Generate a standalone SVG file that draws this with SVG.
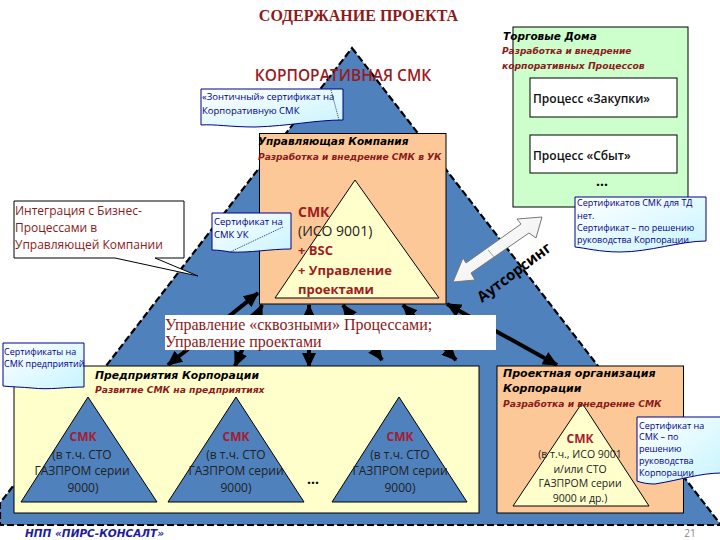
<svg xmlns="http://www.w3.org/2000/svg" width="720" height="540" viewBox="0 0 720 540">
<style>
text{font-family:"Open Sans","DejaVu Sans",sans-serif}
.box{stroke:#000;stroke-width:1}
.ser{font-family:"Liberation Serif",serif}
.it{font-style:italic;font-weight:700;font-family:"DejaVu Sans",sans-serif}
.red{fill:#8b1a1a}
.note{fill:url(#n);stroke:#00008b;stroke-width:1}
.nt{fill:#00008b;font-size:9px}
.sm{font-size:12px;fill:#222}
.smk{font-size:12px;font-weight:700;fill:#a51c30}
.po{font-size:10.5px;fill:#222;text-anchor:middle}
.ctr{text-anchor:middle}
.uk{font-size:13px;font-weight:700;fill:#a01c20}
.ar{stroke:#000;stroke-width:4;fill:none;marker-start:url(#h);marker-end:url(#h)}
</style>
<defs>
<marker id="h" markerUnits="userSpaceOnUse" markerWidth="16" markerHeight="14" refX="14" refY="7" orient="auto-start-reverse"><path d="M0 0L15 7L0 14z" fill="#000"/></marker>
<linearGradient id="n" x1="0" y1="0" x2="1" y2="1"><stop offset="0" stop-color="#fff"/><stop offset="1" stop-color="#c8f4ff"/></linearGradient>
<linearGradient id="g" x1="0" y1="0" x2="1" y2="1"><stop offset="0" stop-color="#fff"/><stop offset="0.6" stop-color="#f4f4f4"/><stop offset="1" stop-color="#aaa"/></linearGradient>
</defs>
<g id="pyramid"><path d="M352 48L721 525H0V503Z" fill="#4f81bd" stroke="#000" stroke-width="2.2" stroke-dasharray="7 3"/></g>
<text class="ser red" x="358.500" y="21" font-size="16" font-weight="700" text-anchor="middle">СОДЕРЖАНИЕ ПРОЕКТА</text>
<g id="torg"><rect class="box" x="513" y="27" width="175" height="180" fill="#ccffcc"/>
<rect class="box" x="530" y="78" width="147" height="39" fill="#fff"/><text x="533" y="103" font-size="12" font-weight="600" fill="#111">Процесс «Закупки»</text>
<rect class="box" x="530" y="135" width="147" height="38" fill="#fff"/><text x="533" y="160" font-size="12" font-weight="600" fill="#111">Процесс «Сбыт»</text>
<text x="602" y="186" font-size="14" font-weight="700" text-anchor="middle">...</text>
<text class="it" x="503" y="40" font-size="10.5">Торговые Дома</text>
<text class="it red" x="502" y="54" font-size="9">Разработка и внедрение</text>
<text class="it red" x="502" y="69" font-size="9.2">корпоративных Процессов</text></g>
<text x="343" y="81" font-size="15.500" font-weight="600" class="ctr" fill="#9a1b1f">КОРПОРАТИВНАЯ СМК</text>
<g id="note-umbrella"><path class="note" d="M201 89H343V120C315 120 290 126 255 127C230 127 215 124 201 125Z"/><text class="nt" x="202" y="100" style="font-size:9.500px">«Зонтичный» сертификат на</text><text class="nt" x="202" y="114" style="font-size:9.500px">Корпоративную СМК</text><path d="M331 90L339 120" stroke="#336" stroke-dasharray="1 1"/></g>
<g id="connectors">
<path class="ar" d="M258 293L168 365"/><path class="ar" d="M262 305L235 366"/><path class="ar" d="M309 305V367"/><path class="ar" d="M343 305L382 360"/><path class="ar" d="M403 305L456 360"/><path class="ar" d="M447 304L557 365"/>
<path d="M542 217L517 219L521 224L466 263L463 258L453 282L475 280L471 273L529 233L536 238Z" fill="url(#g)" stroke="#777"/><path d="M488 250L495 258" stroke="#5a8a9a" stroke-width="0.700"/>
</g>
<g id="uk"><rect class="box" x="259.500" y="133.500" width="186.500" height="170.500" fill="#fcc898"/>
<path class="box" d="M355 180L439 298H275Z" fill="#ffffcc"/>
<text class="it" x="258" y="145" font-size="10.5">Управляющая Компания</text>
<text class="it red" x="258" y="160" font-size="9.100">Разработка и внедрение СМК в УК</text>
<text x="298" y="217" class="uk" style="font-size:14px">СМК</text>
<text x="298" y="236" font-size="14" fill="#222">(ИСО 9001)</text>
<text x="298" y="255" class="uk">+ BSC</text>
<text x="298" y="275" class="uk">+ Управление</text>
<text x="298" y="294" class="uk">проектами</text></g>
<g id="note-integration"><path d="M14 201H184V258H155L198 276L115 258H14Z" fill="#fff" stroke="#000"/><text x="15" y="215" font-size="12" class="red">Интеграция с Бизнес-</text><text x="15" y="232" font-size="12" class="red">Процессами в</text><text x="15" y="249" font-size="12" class="red">Управляющей Компании</text></g>
<g id="note-uk"><path class="note" d="M212 213H291V249C270 249 250 253 230 252C225 251 218 250 212 250Z"/><text class="nt" x="214" y="225" style="font-size:9.500px">Сертификат на</text><text class="nt" x="214" y="238" style="font-size:9.500px">СМК УК</text><path d="M283 227L230 252" stroke="#336" stroke-dasharray="1 1"/></g>
<g id="note-td"><path class="note" d="M575 197H706V241C680 241 650 252 620 252C600 252 585 248 575 247Z"/><text class="nt" x="577" y="206">Сертификатов СМК для ТД</text><text class="nt" x="577" y="219">нет.</text><text class="nt" x="577" y="231">Сертификат – по решению</text><text class="nt" x="577" y="243">руководства Корпорации</text></g>
<text transform="translate(482 303) rotate(-37)" font-size="15" font-weight="700" fill="#000" textLength="88" lengthAdjust="spacingAndGlyphs">Аутсорсинг</text>
<g id="mgmt"><rect x="165" y="315" width="331" height="35" fill="#fff"/><text class="ser red" x="165" y="330" font-size="16">Управление «сквозными» Процессами;</text><text class="ser red" x="165" y="347" font-size="16">Управление проектами</text></g>
<g id="pk"><rect class="box" x="14" y="366" width="465" height="147" fill="#ffffcc"/>
<text class="it" x="95" y="379" font-size="10.8">Предприятия Корпорации</text><text class="it red" x="95" y="393" font-size="9.2">Развитие СМК на предприятиях</text>
<g fill="#4f81bd" stroke="#000"><path d="M88 397L157 502H21Z"/><path d="M236 397L304 502H168Z"/><path d="M399 397L467 502H332Z"/></g>
<text class="smk ctr" x="83" y="441">СМК</text><text class="sm ctr" x="82" y="459">(в т.ч. СТО</text><text class="sm ctr" x="82" y="475">ГАЗПРОМ серии</text><text class="sm ctr" x="83" y="492">9000)</text>
<text class="smk ctr" x="236" y="441">СМК</text><text class="sm ctr" x="236" y="459">(в т.ч. СТО</text><text class="sm ctr" x="236" y="475">ГАЗПРОМ серии</text><text class="sm ctr" x="236" y="492">9000)</text>
<text class="smk ctr" x="400" y="441">СМК</text><text class="sm ctr" x="400" y="459">(в т.ч. СТО</text><text class="sm ctr" x="400" y="475">ГАЗПРОМ серии</text><text class="sm ctr" x="400" y="492">9000)</text>
<text x="313" y="484" font-size="14" font-weight="700" class="ctr">...</text></g>
<g id="note-pred"><path class="note" d="M3 343H84V387C65 387 50 390 32 388C22 387 12 387 3 386Z"/><text class="nt" x="4" y="355">Сертификаты на</text><text class="nt" x="4" y="367">СМК предприятий</text></g>
<g id="po"><rect class="box" x="497" y="366" width="186.500" height="147" fill="#fcc898"/><path class="box" d="M582 403L649 506H513Z" fill="#ffffcc"/>
<text class="it" x="503" y="377" font-size="11">Проектная организация</text><text class="it" x="503" y="392" font-size="11">Корпорации</text><text class="it red" x="503" y="407" font-size="9.2">Разработка и внедрение СМК</text>
<text class="smk ctr" x="580" y="443">СМК</text><text class="po" x="580" y="458">(в т.ч., ИСО 9001</text><text class="po" x="580" y="473">и/или СТО</text><text class="po" x="580" y="487">ГАЗПРОМ серии</text><text class="po" x="580" y="502">9000 и др.)</text></g>
<g id="note-po"><path class="note" d="M637 417H722V473C700 473 680 480 655 484C648 484 642 483 637 481Z"/><text class="nt" x="639" y="429">Сертификат на</text><text class="nt" x="639" y="440">СМК – по</text><text class="nt" x="639" y="452">решению</text><text class="nt" x="639" y="464">руководства</text><text class="nt" x="639" y="476">Корпорации</text></g>
<text x="25" y="537" font-size="10.5" class="it" fill="#1c1c9c">НПП «ПИРС-КОНСАЛТ»</text>
<text x="690" y="537" font-size="10" fill="#888" text-anchor="middle">21</text>
</svg>
